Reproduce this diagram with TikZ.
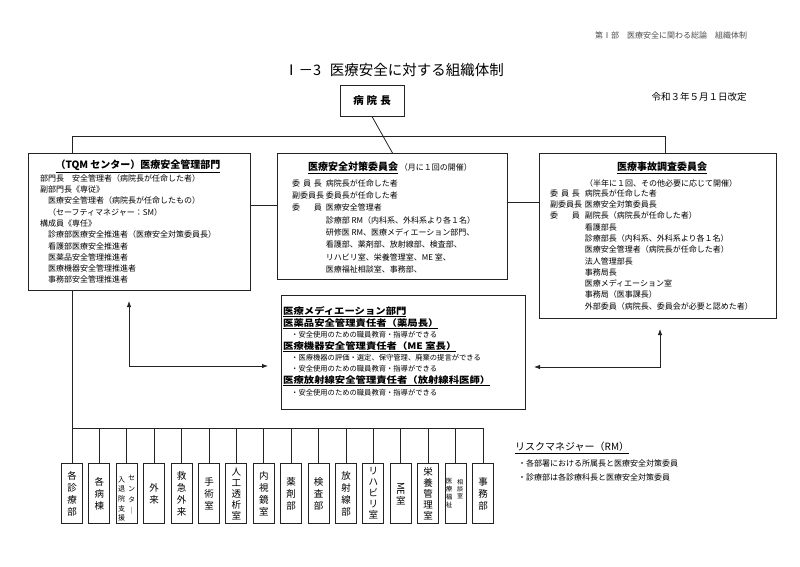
\documentclass[tikz,border=0pt]{standalone}
\usepackage{fontspec}
\setmainfont{Noto Sans CJK JP}
\usepackage{graphicx}
\usetikzlibrary{positioning,arrows.meta}
\definecolor{rule}{RGB}{35,35,35}
\newcommand{\hiraki}[1]{\makebox[3.7em][s]{#1}}
\newcommand{\wide}[1]{\scalebox{1.15}[1]{#1}}

\begin{document}
\begin{tikzpicture}[x=1pt,y=-1pt,
    box/.style={rectangle, draw=rule, line width=1pt, inner sep=0pt},
    link/.style={draw=rule, line width=0.8pt},
    twoway/.style={link, >={Latex[length=6pt,width=4.5pt]}, <->},
    dept/.style={box, anchor=north, minimum width=21pt, minimum height=60pt,
                 align=center, font=\fontsize{9.5}{12}\selectfont},
    dept5/.style={dept, font=\fontsize{9.5}{11}\selectfont},
    tate/.style={inner sep=0pt, align=center},
    lines/.style={anchor=north west, inner sep=0pt, font=\fontsize{8}{11.3}\selectfont},
    head/.style={inner sep=0pt, font=\bfseries\fontsize{10}{12}\selectfont},
    medline/.style={anchor=base west, inner sep=0pt, font=\bfseries\fontsize{9}{11}\selectfont},
    medpt/.style={anchor=base west, inner sep=0pt, font=\fontsize{7.3}{9}\selectfont}]
\useasboundingbox (0,0) rectangle (800,566);

% 見出し
\node[font=\fontsize{8}{9}\selectfont, text=black!70] (part) at (671,35) {第Ⅰ部　医療安全に関わる総論　組織体制};
\node[font=\fontsize{14.5}{16}\selectfont] (title) at (394,70) {Ⅰ－3\hspace{0.6em}医療安全に対する組織体制};
\node[font=\fontsize{9.5}{11}\selectfont] (date) at (699,97) {令和３年５月１日改定};

% 病院長
\node[box, minimum width=64pt, minimum height=31pt,
      font=\bfseries\fontsize{10.5}{12}\selectfont] (incho) at (372,100.5) {病\hspace{3pt}院\hspace{3pt}長};

% 組織の枠
\node[box, anchor=north west, minimum width=222pt, minimum height=137pt] (tqm) at (28,153) {};
\node[box, anchor=north west, minimum width=230pt, minimum height=126pt] (taisaku) at (277,153) {};
\node[box, anchor=north west, minimum width=237pt, minimum height=165pt] (jiko) at (539,153) {};
\node[box, anchor=north west, minimum width=244pt, minimum height=114pt] (med) at (281,295) {};

% 医療安全管理部門
\node[head] (tqmttl) at (138,166) {\underline{（TQM センター）医療安全管理部門}};
\node[lines] (tqmtxt) at (40,173.1) {\begin{tabular}{@{}l@{}}
  部門長　安全管理者（病院長が任命した者）\\
  副部門長《専従》\\
  \hspace{1em}医療安全管理者（病院長が任命したもの）\\
  \hspace{1em}（セーフティマネジャー：SM）\\
  構成員《専任》\\
  \hspace{1em}診療部医療安全推進者（医療安全対策委員長）\\
  \hspace{1em}看護部医療安全推進者\\
  \hspace{1em}医薬品安全管理推進者\\
  \hspace{1em}医療機器安全管理推進者\\
  \hspace{1em}事務部安全管理推進者
\end{tabular}};

% 医療安全対策委員会
\node[inner sep=0pt] (taisakuttl) at (390,168)
  {{\bfseries\fontsize{10}{12}\selectfont\underline{医療安全対策委員会}}\,{\fontsize{8}{10}\selectfont（月に１回の開催）}};
\node[lines, font=\fontsize{8}{12.3}\selectfont] (taisakutxt) at (292,177.4) {\begin{tabular}{@{}l@{\hspace{4pt}}l@{}}
  \hiraki{委\hfill 員\hfill 長} & 病院長が任命した者\\
  \hiraki{副委員長} & 委員長が任命した者\\
  \hiraki{委\hfill 員} & 医療安全管理者\\
  & 診療部 RM（内科系、外科系より各１名）\\
  & 研修医 RM、医療メディエーション部門、\\
  & 看護部、薬剤部、放射線部、検査部、\\
  & リハビリ室、栄養管理室、ME 室、\\
  & 医療福祉相談室、事務部、
\end{tabular}};

% 医療事故調査委員会
\node[head] (jikottl) at (662,168) {\underline{医療事故調査委員会}};
\node[inner sep=0pt, font=\fontsize{8}{10}\selectfont] (jikosub) at (661,183) {（半年に１回、その他必要に応じて開催）};
\node[lines] (jikotxt) at (550,188.1) {\begin{tabular}{@{}l@{\hspace{5pt}}l@{}}
  \hiraki{委\hfill 員\hfill 長} & 病院長が任命した者\\
  \hiraki{副委員長} & 医療安全対策委員長\\
  \hiraki{委\hfill 員} & 副院長（病院長が任命した者）\\
  & 看護部長\\
  & 診療部長（内科系、外科系より各１名）\\
  & 医療安全管理者（病院長が任命した者）\\
  & 法人管理部長\\
  & 事務局長\\
  & 医療メディエーション室\\
  & 事務局（医事課長）\\
  & 外部委員（病院長、委員会が必要と認めた者）
\end{tabular}};

% 医療メディエーション部門
\node[medline] (medttl) at (283,314.2) {\wide{\underline{医療メディエーション部門}}};
\node[medline] (medA) at (283,326.2) {\wide{\underline{医薬品安全管理責任者（薬局長）}}};
\node[medpt] (medA1) at (291,337.8) {・安全使用のための職員教育・指導ができる};
\node[medline] (medB) at (283,349.2) {\wide{\underline{医療機器安全管理責任者（ME 室長）}}};
\node[medpt] (medB1) at (291,360.8) {・医療機器の評価・選定、保守管理、廃棄の提言ができる};
\node[medpt] (medB2) at (291,371.8) {・安全使用のための職員教育・指導ができる};
\node[medline] (medC) at (283,383.2) {\wide{\underline{医療放射線安全管理責任者（放射線科医師）}}};
\node[medpt] (medC1) at (291,395.8) {・安全使用のための職員教育・指導ができる};

% リスクマネジャー
\node[anchor=base west, inner sep=0pt, font=\fontsize{10}{12}\selectfont] (rmttl) at (515,450.8) {\underline{リスクマネジャー（RM）}};
\node[anchor=west, inner sep=0pt, font=\fontsize{8}{10}\selectfont] (rm1) at (518,463) {・各部署における所属長と医療安全対策委員};
\node[anchor=west, inner sep=0pt, font=\fontsize{8}{10}\selectfont] (rm2) at (518,477) {・診療部は各診療科長と医療安全対策委員};

% 各部署
\node[dept] (d1) at (72,463) {各\\診\\療\\部};
\node[dept] (d2) at (99.4,463) {各\\病\\棟};
\node[dept] (d3) at (126.8,463) {};
\node[dept] (d4) at (154.2,463) {外\\来};
\node[dept] (d5) at (181.6,463) {救\\急\\外\\来};
\node[dept] (d6) at (209,463) {手\\術\\室};
\node[dept5] (d7) at (236.4,463) {人\\工\\透\\析\\室};
\node[dept] (d8) at (263.8,463) {内\\視\\鏡\\室};
\node[dept] (d9) at (291.2,463) {薬\\剤\\部};
\node[dept] (d10) at (318.6,463) {検\\査\\部};
\node[dept] (d11) at (346,463) {放\\射\\線\\部};
\node[dept5] (d12) at (373.4,463) {リ\\ハ\\ビ\\リ\\室};
\node[dept] (d13) at (400.8,463) {\rotatebox[origin=c]{-90}{ME}\\室};
\node[dept5] (d14) at (428.2,463) {栄\\養\\管\\理\\室};
\node[dept] (d15) at (455.6,463) {};
\node[dept] (d16) at (483,463) {事\\務\\部};
\node[tate, font=\fontsize{7}{9.6}\selectfont] (d3a) at (121.5,499) {入\\退\\院\\支\\援};
\node[tate, font=\fontsize{7}{11}\selectfont] (d3b) at (131.5,495) {セ\\ン\\タ\\｜};
\node[tate, font=\fontsize{6.5}{7.8}\selectfont] (d15a) at (449,493) {医\\療\\福\\祉};
\node[tate, font=\fontsize{6}{7}\selectfont] (d15b) at (460,489) {相\\談\\室};

% 線
\draw[link] (incho.south) -- (taisaku.north);
\coordinate (jL) at (72,136);
\coordinate (jR) at (665,136);
\draw[link] (tqm.north -| jL) -- (jL) -- (jR) -- (jiko.north -| jR);
\coordinate (sideL) at (0,205);
\coordinate (sideR) at (0,202);
\draw[link] (tqm.east |- sideL) -- (taisaku.west |- sideL);
\draw[link] (taisaku.east |- sideR) -- (jiko.west |- sideR);

\coordinate (kL) at (72,428);
\draw[link] (tqm.south -| kL) -- (kL) -- (d16.north |- kL);
\foreach \i in {1,...,16}
  \draw[link] (d\i.north) -- (d\i.north |- kL);

% 矢印
\coordinate (yL) at (129,366);
\coordinate (yR) at (660,367);
\draw[twoway, shorten <=10pt, shorten >=13pt] (tqm.south -| yL) |- (med.west |- yL);
\draw[twoway, shorten <=8pt, shorten >=10pt] (med.east |- yR) -| (jiko.south -| yR);
\end{tikzpicture}
\end{document}
